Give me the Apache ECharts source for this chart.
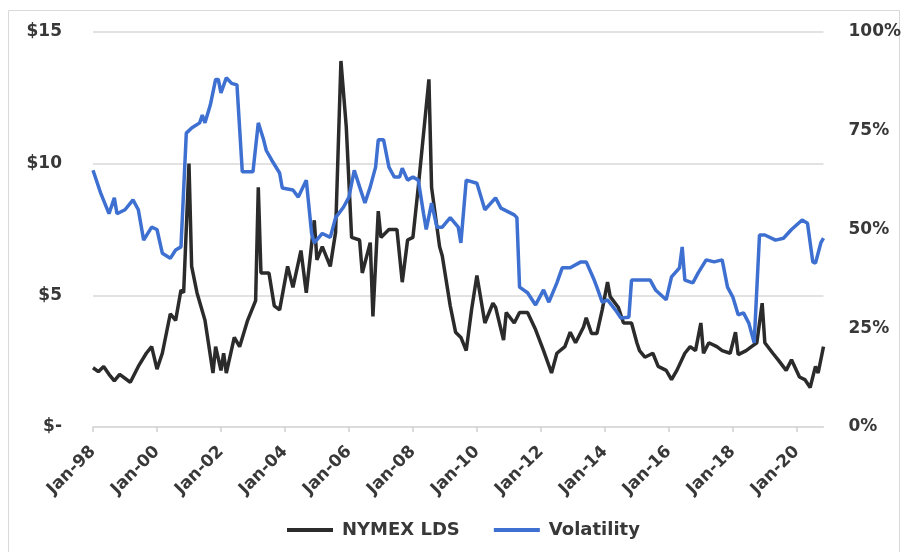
<!DOCTYPE html>
<html>
<head>
<meta charset="utf-8">
<script src="https://cdn.jsdelivr.net/npm/echarts@6/dist/echarts.min.js"></script>
<style>
  html, body { margin: 0; padding: 0; background: #fff; }
  #chart { width: 904px; height: 552px; }
</style>
</head>
<body>
<div id="chart"></div>
<script>
// NYMEX last-day-settle natural gas price ($/MMBtu), monthly turning points
const priceDates = [
  '1998-01','1998-03','1998-05','1998-07','1998-09','1998-11','1999-03','1999-06','1999-09','1999-11',
  '2000-01','2000-03','2000-06','2000-08','2000-10','2000-11','2001-01','2001-02','2001-04','2001-07',
  '2001-10','2001-11','2002-01','2002-02','2002-03','2002-06','2002-08','2002-11','2003-02','2003-03',
  '2003-04','2003-07','2003-09','2003-11','2004-02','2004-04','2004-07','2004-09','2004-12','2005-01',
  '2005-03','2005-06','2005-08','2005-10','2005-12','2006-02','2006-05','2006-06','2006-09','2006-10',
  '2006-12','2007-01','2007-04','2007-07','2007-09','2007-11','2008-01','2008-03','2008-07','2008-08',
  '2008-11','2008-12','2009-03','2009-05','2009-07','2009-09','2009-11','2010-01','2010-04','2010-07',
  '2010-08','2010-11','2010-12','2011-03','2011-05','2011-08','2011-11','2012-02','2012-05','2012-07',
  '2012-10','2012-12','2013-02','2013-05','2013-06','2013-08','2013-10','2013-12','2014-02','2014-03',
  '2014-06','2014-08','2014-11','2015-01','2015-02','2015-04','2015-07','2015-09','2015-12','2016-02',
  '2016-04','2016-07','2016-09','2016-11','2017-01','2017-02','2017-04','2017-07','2017-09','2017-12',
  '2018-02','2018-03','2018-06','2018-08','2018-10','2018-12','2019-01','2019-04','2019-06','2019-09',
  '2019-11','2020-02','2020-04','2020-06','2020-08','2020-09','2020-11'
];
const priceValues = [
  2.25, 2.1, 2.3, 2.0, 1.75, 2.0, 1.7, 2.3, 2.8, 3.05,
  2.2, 2.8, 4.3, 4.05, 5.2, 5.1, 10.0, 6.1, 5.1, 4.05,
  2.05, 3.05, 2.15, 2.8, 2.05, 3.4, 3.05, 4.05, 4.8, 9.1,
  5.85, 5.85, 4.6, 4.45, 6.1, 5.3, 6.7, 5.1, 7.85, 6.35,
  6.85, 6.1, 7.4, 13.9, 11.4, 7.2, 7.1, 5.85, 7.0, 4.2,
  8.2, 7.2, 7.5, 7.5, 5.5, 7.1, 7.2, 9.1, 13.2, 9.1,
  6.85, 6.5, 4.6, 3.6, 3.4, 2.9, 4.45, 5.75, 3.95, 4.7,
  4.55, 3.3, 4.35, 3.95, 4.35, 4.35, 3.7, 2.9, 2.05, 2.8,
  3.05, 3.6, 3.2, 3.8, 4.15, 3.55, 3.55, 4.45, 5.5, 4.95,
  4.55, 3.95, 3.95, 3.2, 2.9, 2.65, 2.8, 2.3, 2.15, 1.8,
  2.15, 2.8, 3.05, 2.9, 3.95, 2.8, 3.2, 3.05, 2.9, 2.8,
  3.6, 2.75, 2.9, 3.05, 3.2, 4.7, 3.2, 2.8, 2.55, 2.15,
  2.55, 1.9, 1.8, 1.5, 2.3, 2.05, 3.05
];

// Rolling price volatility (%), monthly turning points
const volDates = [
  '1998-01','1998-04','1998-07','1998-09','1998-10','1999-01','1999-04','1999-06','1999-08','1999-11',
  '2000-01','2000-03','2000-06','2000-08','2000-10','2000-12','2001-02','2001-05','2001-06','2001-07',
  '2001-09','2001-11','2001-12','2002-01','2002-03','2002-05','2002-07','2002-09','2003-01','2003-03',
  '2003-05','2003-06','2003-08','2003-11','2003-12','2004-04','2004-06','2004-09','2004-11','2004-12',
  '2005-03','2005-06','2005-08','2005-11','2006-01','2006-03','2006-05','2006-07','2006-09','2006-11',
  '2006-12','2007-02','2007-04','2007-06','2007-08','2007-09','2007-11','2008-01','2008-03','2008-05',
  '2008-06','2008-08','2008-10','2008-12','2009-03','2009-06','2009-07','2009-09','2010-01','2010-04',
  '2010-08','2010-10','2011-03','2011-04','2011-05','2011-08','2011-11','2012-02','2012-04','2012-07',
  '2012-09','2012-12','2013-04','2013-06','2013-09','2013-10','2013-12','2014-02','2014-05','2014-07',
  '2014-10','2014-11','2015-06','2015-08','2015-12','2016-02','2016-05','2016-06','2016-07','2016-10',
  '2016-12','2017-03','2017-06','2017-09','2017-11','2018-01','2018-03','2018-05','2018-07','2018-09',
  '2018-11','2019-01','2019-05','2019-08','2019-11','2020-03','2020-05','2020-07','2020-08','2020-10',
  '2020-11'
];
const volValues = [
  65, 59, 54, 58, 54, 55, 57.5, 55, 47.3, 50.6,
  50, 44, 42.7, 44.8, 45.6, 74.4, 75.7, 77, 79, 77,
  81.5, 88, 88, 84.6, 88.4, 87, 86.6, 64.6, 64.6, 77,
  72.7, 70, 67.6, 64.3, 60.5, 60, 58.2, 62.5, 49, 46.6,
  49, 48, 53, 55.7, 58.2, 65, 60.8, 56.7, 60.8, 65.8,
  72.7, 72.7, 65.8, 63.3, 63.3, 65.5, 62.5, 63.3, 62.5, 54,
  50, 56.7, 50.6, 50.6, 53, 50.6, 46.6, 62.5, 61.7, 55,
  58, 55.4, 53.7, 53, 35.4, 34, 30.9, 34.7, 31.6, 36.5,
  40.3, 40.3, 41.8, 41.8, 37.2, 35.4, 31.6, 32.2, 29.6, 27.6,
  27.8, 37.2, 37.2, 34.7, 32.2, 38, 40.3, 45.6, 37.2, 36.5,
  39, 42.3, 41.8, 42.3, 35.4, 32.9, 28.4, 28.9, 26.3, 21.3,
  48.6, 48.6, 47.3, 47.8, 50, 52.4, 51.6, 41.8, 41.5, 46.6,
  47.8
];

// Axis tick labels
const xTickLabels = ['Jan-98','Jan-00','Jan-02','Jan-04','Jan-06','Jan-08','Jan-10','Jan-12','Jan-14','Jan-16','Jan-18','Jan-20'];
const priceTicks = ['$-', '$5', '$10', '$15'];
const volTicks = ['0%', '25%', '50%', '75%', '100%'];

const START_YEAR = 1998;
const LAST_MONTH = 274; // Nov-20
const monthIndex = d => (parseInt(d.slice(0, 4)) - START_YEAR) * 12 + parseInt(d.slice(5, 7)) - 1;
const pairs = (dates, vals) => dates.map((d, i) => [monthIndex(d), vals[i]]);

const tickMonths = xTickLabels.map((_, i) => i * 24);
const font = 'DejaVu Sans';
const textColor = '#383838';
const labelStyle = { fontFamily: font, fontWeight: 'bold', fontSize: 17, color: textColor };

const chart = echarts.init(document.getElementById('chart'));
chart.setOption({
  animation: false,
  backgroundColor: '#fff',
  graphic: [{
    type: 'rect',
    shape: { x: 8.5, y: 10.5, width: 891, height: 560 },
    style: { fill: 'none', stroke: '#d9d9d9', lineWidth: 1 },
    silent: true
  }],
  grid: { left: 93, right: 79, top: 32, bottom: 125 },
  legend: {
    left: 287,
    top: 521,
    padding: 0,
    icon: 'rect',
    itemWidth: 46,
    itemHeight: 4,
    itemGap: 34,
    textStyle: Object.assign({}, labelStyle, { fontSize: 18, padding: [0, 0, 0, 4] }),
    data: ['NYMEX LDS', 'Volatility']
  },
  xAxis: {
    type: 'value',
    min: 0,
    max: LAST_MONTH,
    interval: 24,
    splitLine: { show: false },
    axisLine: { show: true, lineStyle: { color: '#d9d9d9', width: 1.5 } },
    axisTick: { show: true, customValues: tickMonths, length: 5, lineStyle: { color: '#d0d0d0', width: 1.5 } },
    axisLabel: Object.assign({
      customValues: tickMonths,
      rotate: 45,
      margin: 22,
      formatter: v => xTickLabels[Math.round(v / 24)] || ''
    }, labelStyle)
  },
  yAxis: [{
    type: 'value',
    min: 0, max: 15, interval: 5,
    axisLine: { show: false },
    axisTick: { show: false },
    splitLine: { lineStyle: { color: '#d9d9d9', width: 1.5 } },
    axisLabel: Object.assign({
      margin: 31,
      formatter: v => priceTicks[Math.round(v / 5)]
    }, labelStyle)
  }, {
    type: 'value',
    min: 0, max: 100, interval: 25,
    axisLine: { show: false },
    axisTick: { show: false },
    splitLine: { show: false },
    axisLabel: Object.assign({
      margin: 25,
      formatter: v => volTicks[Math.round(v / 25)]
    }, labelStyle)
  }],
  series: [{
    name: 'NYMEX LDS',
    type: 'line',
    yAxisIndex: 0,
    showSymbol: false,
    lineStyle: { color: '#2b2b2b', width: 3.5 },
    itemStyle: { color: '#2b2b2b' },
    data: pairs(priceDates, priceValues)
  }, {
    name: 'Volatility',
    type: 'line',
    yAxisIndex: 1,
    showSymbol: false,
    lineStyle: { color: '#3d70d0', width: 3.5 },
    itemStyle: { color: '#3d70d0' },
    data: pairs(volDates, volValues)
  }]
});
</script>
</body>
</html>
